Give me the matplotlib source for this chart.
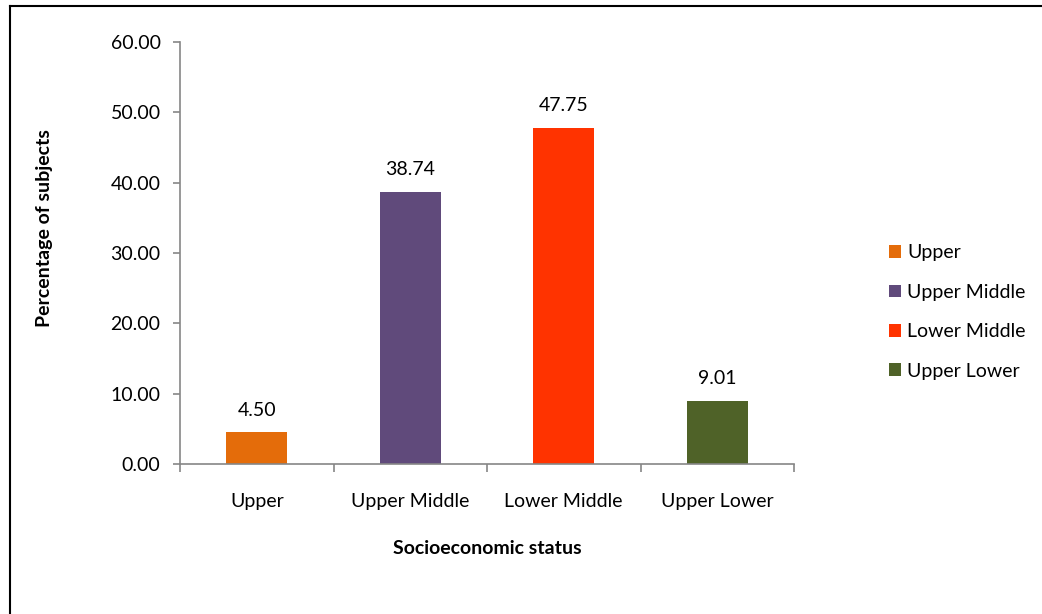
import matplotlib
matplotlib.use('Agg')
import matplotlib.pyplot as plt
from matplotlib.patches import Patch
from matplotlib.lines import Line2D

# socioeconomic status distribution
categories = ['Upper', 'Upper Middle', 'Lower Middle', 'Upper Lower']
percent = [4.50, 38.74, 47.75, 9.01]
colors = ['#E46C0A', '#604A7B', '#FF3300', '#4F6228']
yticks = [0, 10, 20, 30, 40, 50, 60]

plt.rcParams['font.family'] = ['Lato', 'DejaVu Sans']
FS = 14
W, H = 1042, 614
fig = plt.figure(figsize=(W / 100, H / 100), dpi=100)
ax = fig.add_axes([180 / W, 1 - 464 / H, (794 - 180) / W, (464 - 42) / H])

x = list(range(len(categories)))
ax.bar(x, percent, width=0.40, color=colors, zorder=2)
for xi, v in zip(x, percent):
    ax.annotate('%.2f' % v, (xi, v), xytext=(0, 16), textcoords='offset points',
                ha='center', va='center', fontsize=FS)

ax.set_xlim(-0.5, len(categories) - 0.5)
ax.set_ylim(0, 60)
ax.set_yticks(yticks)
ax.set_yticklabels(['%.2f' % t for t in yticks], fontsize=FS)
ax.set_xticks(x)
ax.set_xticklabels(categories, fontsize=FS)
ax.tick_params(axis='x', length=0, pad=21)
ax.tick_params(axis='y', length=5, color='#868686', width=1.2, pad=9)
# category boundary ticks along the x axis
ax.set_xticks([i - 0.5 for i in range(len(categories) + 1)], minor=True)
ax.tick_params(axis='x', which='minor', length=6, color='#868686', width=1.2)

for s in ['top', 'right']:
    ax.spines[s].set_visible(False)
for s in ['left', 'bottom']:
    ax.spines[s].set_color('#868686')
    ax.spines[s].set_linewidth(1.2)

fig.text(45 / W, 1 - 228 / H, 'Percentage of subjects', rotation=90,
         ha='center', va='center', fontsize=FS, fontweight='bold')
fig.text(487 / W, 1 - 548 / H, 'Socioeconomic status',
         ha='center', va='center', fontsize=FS, fontweight='bold')

handles = [Patch(facecolor=c, edgecolor='none') for c in colors]
fig.legend(handles, categories, loc='center left', bbox_to_anchor=(883 / W, 1 - 312 / H),
           frameon=False, fontsize=FS, handlelength=0.65, handleheight=0.65,
           handletextpad=0.3, labelspacing=1.15, borderaxespad=0, borderpad=0.3)

# outer frame
fig.add_artist(Line2D([10 / W, 1], [1 - 6 / H, 1 - 6 / H], color='black', lw=1.5,
                      transform=fig.transFigure))
fig.add_artist(Line2D([10 / W, 10 / W], [0, 1 - 6 / H], color='black', lw=1.5,
                      transform=fig.transFigure))

fig.savefig('out.png', dpi=100)
